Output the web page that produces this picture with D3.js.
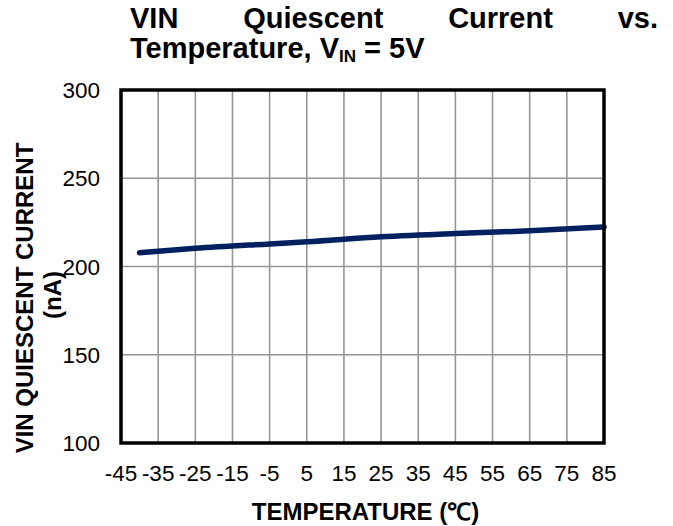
<!DOCTYPE html>
<html>
<head>
<meta charset="utf-8">
<script src="https://cdn.jsdelivr.net/npm/d3@7"></script>
<style>
  body { margin: 0; background: #fff; }
  text { font-family: "Liberation Sans", Arial, sans-serif; }
</style>
</head>
<body>
<div id="chart"></div>
<script>
// data
var temps = [-40, -25, -5, 5, 25, 45, 65, 85];
var current = [207.8, 210.3, 212.8, 214, 216.8, 218.7, 220.2, 222.4];
var xTicks = [-45, -35, -25, -15, -5, 5, 15, 25, 35, 45, 55, 65, 75, 85];
var yTicks = [100, 150, 200, 250, 300];
var titleWords = ["VIN", "Quiescent", "Current", "vs."];

var width = 673, height = 526;
var plotL = 121, plotR = 604, plotT = 90, plotB = 443;

var svg = d3.select("#chart").append("svg")
    .attr("width", width)
    .attr("height", height);

var x = d3.scaleLinear().domain([-45, 85]).range([plotL, plotR]);
var y = d3.scaleLinear().domain([100, 300]).range([plotB, plotT]);

// grid
svg.append("g")
    .selectAll("line")
    .data(xTicks)
    .enter().append("line")
    .attr("x1", d => x(d)).attr("x2", d => x(d))
    .attr("y1", plotT).attr("y2", plotB)
    .attr("stroke", "#969696").attr("stroke-width", 1.6);

svg.append("g")
    .selectAll("line")
    .data(yTicks)
    .enter().append("line")
    .attr("x1", plotL).attr("x2", plotR)
    .attr("y1", d => y(d)).attr("y2", d => y(d))
    .attr("stroke", "#969696").attr("stroke-width", 1.6);

// series
var pts = temps.map((t, i) => [t, current[i]]);
svg.append("path")
    .datum(pts)
    .attr("fill", "none")
    .attr("stroke", "#002060")
    .attr("stroke-width", 5.5)
    .attr("stroke-linecap", "round")
    .attr("d", d3.line().x(d => x(d[0])).y(d => y(d[1])).curve(d3.curveMonotoneX));

// plot border
svg.append("rect")
    .attr("x", plotL).attr("y", plotT)
    .attr("width", plotR - plotL).attr("height", plotB - plotT)
    .attr("fill", "none")
    .attr("stroke", "#000")
    .attr("stroke-width", 3.5);

// tick labels
svg.append("g")
    .selectAll("text")
    .data(xTicks)
    .enter().append("text")
    .attr("x", d => x(d))
    .attr("y", 481)
    .attr("text-anchor", "middle")
    .attr("font-size", 22.5)
    .attr("fill", "#000")
    .text(d => d);

svg.append("g")
    .selectAll("text")
    .data(yTicks)
    .enter().append("text")
    .attr("x", 100)
    .attr("y", d => y(d) + 8)
    .attr("text-anchor", "end")
    .attr("font-size", 22.5)
    .attr("fill", "#000")
    .text(d => d);

// axis titles
svg.append("text")
    .attr("x", (plotL + plotR) / 2 + 3)
    .attr("y", 520)
    .attr("text-anchor", "middle")
    .attr("font-size", 24)
    .attr("font-weight", "bold")
    .text("TEMPERATURE (\u2103)");

var yt = svg.append("g").attr("transform", "translate(0,298) rotate(-90)");
yt.append("text")
    .attr("x", 0).attr("y", 33)
    .attr("text-anchor", "middle")
    .attr("font-size", 24)
    .attr("font-weight", "bold")
    .text("VIN QUIESCENT CURRENT");
yt.append("text")
    .attr("x", 3).attr("y", 61)
    .attr("text-anchor", "middle")
    .attr("font-size", 24)
    .attr("font-weight", "bold")
    .text("(nA)");

// title, first line justified
var t1 = svg.append("g");
var words = t1.selectAll("text")
    .data(titleWords)
    .enter().append("text")
    .attr("y", 28)
    .attr("font-size", 29)
    .attr("font-weight", "bold")
    .text(d => d);
var lens = [];
words.each(function () { lens.push(this.getComputedTextLength()); });
var x0 = 130, x1 = 658;
var gap = (x1 - x0 - d3.sum(lens)) / (lens.length - 1);
var cx = x0;
words.attr("x", function (d, i) { var p = cx; cx += lens[i] + gap; return p; });

var t2 = svg.append("text")
    .attr("x", 130).attr("y", 58)
    .attr("font-size", 29)
    .attr("font-weight", "bold");
t2.append("tspan").text("Temperature, V");
t2.append("tspan").attr("font-size", 17).attr("dy", 4).text("IN");
t2.append("tspan").attr("dy", -4).text(" = 5V");
</script>
</body>
</html>
